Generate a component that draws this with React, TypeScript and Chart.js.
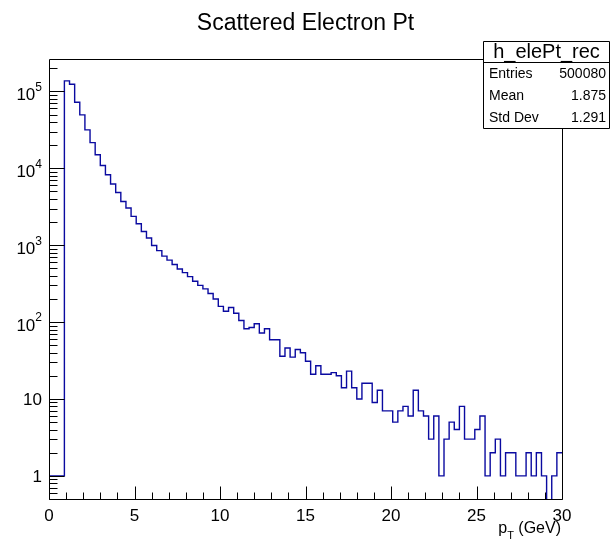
import React, { useEffect, useRef } from 'react';
import { Chart, registerables } from 'chart.js';

Chart.register(...registerables);

// ---------- data ----------
const chartTitle = 'Scattered Electron Pt';
const xAxisMain = 'p';
const xAxisSub = 'T';
const xAxisRest = ' (GeV)';

const xMin = 0;
const xMax = 30;
const binWidth = 0.3;
// counts per bin (100 bins of 0.3 GeV from 0 to 30)
const counts = [
  1, 1, 1, 137000, 124000, 72400, 49500, 31600, 21600, 15000,
  10900, 8240, 6240, 4850, 3700, 3040, 2370, 1900, 1510, 1240,
  990, 850, 720, 640, 560, 490, 440, 390, 340, 300,
  270, 235, 200, 160, 138, 155, 130, 105, 82, 85,
  95, 72, 82, 59, 59, 36, 46, 35, 44, 40,
  31, 21, 27, 21, 21, 22, 20, 14, 23, 14,
  10, 16, 16, 9, 13, 7, 7, 5, 7, 8,
  6, 13, 7, 6, 3, 6, 1, 3, 5, 4,
  8, 3, 3, 4, 6, 1, 2, 3, 1, 2,
  2, 1, 1, 2, 1, 2, 1, 0, 1, 2,
];

const yMin = 0.5;
const yMax = 264000;

const xTickValues = [0, 5, 10, 15, 20, 25, 30];
const xMinorStep = 1;
const yLabelValues = [1, 10, 100, 1000, 10000, 100000];
const yLabelBases = ['1', '10', '10', '10', '10', '10'];
const yLabelExps = ['', '', '2', '3', '4', '5'];

const statsTitle = 'h_elePt_rec';
const statsNames = ['Entries', 'Mean', 'Std Dev'];
const statsValues = ['500080', '1.875', '1.291'];

const FONT = '"Liberation Sans", Arial, Helvetica, sans-serif';
const LINE_COLOR = '#0a0aa0';

// ---------- plugin for ROOT-like frame, ticks, labels, stats ----------
const rootPlugin = {
  id: 'rootStyle',
  afterDatasetsDraw(chart: any) {
    const { ctx, chartArea: a, scales } = chart;
    const xs = scales.x;
    const ys = scales.y;
    const L = Math.round(a.left) + 0.5;
    const R = Math.round(a.right) + 0.5;
    const T = Math.round(a.top) + 0.5;
    const B = Math.round(a.bottom) + 0.5;
    ctx.save();
    ctx.strokeStyle = '#000';
    ctx.lineWidth = 1;
    ctx.beginPath();
    ctx.rect(L, T, R - L, B - T);
    ctx.stroke();

    // y ticks (log)
    const dLo = Math.floor(Math.log10(yMin));
    const dHi = Math.ceil(Math.log10(yMax));
    ctx.beginPath();
    for (let d = dLo; d <= dHi; d++) {
      for (let k = 1; k <= 9; k++) {
        const v = k * Math.pow(10, d);
        if (v < yMin * 0.999 || v > yMax) continue;
        const py = Math.round(ys.getPixelForValue(v)) + 0.5;
        const len = k === 1 ? 15 : 8;
        ctx.moveTo(L, py);
        ctx.lineTo(L + len, py);
      }
    }
    // x ticks
    for (let v = xMin; v <= xMax + 1e-9; v += xMinorStep) {
      const px = Math.round(xs.getPixelForValue(v)) + 0.5;
      const len = Math.abs(v % 5) < 1e-9 ? 13 : 7;
      ctx.moveTo(px, B);
      ctx.lineTo(px, B - len);
    }
    ctx.stroke();

    // y labels
    ctx.fillStyle = '#000';
    ctx.textBaseline = 'middle';
    ctx.textAlign = 'right';
    const lx = a.left - 7;
    yLabelValues.forEach((v, i) => {
      const py = ys.getPixelForValue(v);
      const exp = yLabelExps[i];
      if (exp) {
        ctx.font = `12px ${FONT}`;
        const ew = ctx.measureText(exp).width;
        ctx.fillText(exp, lx, py - 4);
        ctx.font = `17px ${FONT}`;
        ctx.fillText(yLabelBases[i], lx - ew, py + 4);
      } else {
        ctx.font = `17px ${FONT}`;
        ctx.fillText(yLabelBases[i], lx, py + 1);
      }
    });

    // x axis title
    ctx.textBaseline = 'alphabetic';
    ctx.textAlign = 'left';
    ctx.font = `16px ${FONT}`;
    const wRest = ctx.measureText(xAxisRest).width;
    const wMain = ctx.measureText(xAxisMain).width;
    ctx.font = `11px ${FONT}`;
    const wSub = ctx.measureText(xAxisSub).width;
    let cx = a.right - 1 - wRest - wSub - wMain;
    const base = 533;
    ctx.font = `16px ${FONT}`;
    ctx.fillText(xAxisMain, cx, base);
    cx += wMain;
    ctx.font = `11px ${FONT}`;
    ctx.fillText(xAxisSub, cx, base + 6);
    cx += wSub;
    ctx.font = `16px ${FONT}`;
    ctx.fillText(xAxisRest, cx, base);

    // title
    ctx.textAlign = 'center';
    ctx.textBaseline = 'middle';
    ctx.font = `23px ${FONT}`;
    ctx.fillText(chartTitle, chart.width / 2, 24);

    // stats box
    const bx0 = 483.5, bx1 = 609.5, by0 = 41.5, by1 = 128.5, bh = 62.5;
    ctx.fillStyle = '#fff';
    ctx.fillRect(bx0, by0, bx1 - bx0, by1 - by0);
    ctx.beginPath();
    ctx.rect(bx0, by0, bx1 - bx0, by1 - by0);
    ctx.moveTo(bx0, bh);
    ctx.lineTo(bx1, bh);
    ctx.stroke();
    ctx.fillStyle = '#000';
    ctx.font = `20px ${FONT}`;
    ctx.fillText(statsTitle, (bx0 + bx1) / 2, 52);
    ctx.font = `14px ${FONT}`;
    const rowY = [74, 96.5, 118.5];
    statsNames.forEach((n, i) => {
      ctx.textAlign = 'left';
      ctx.fillText(n, 489, rowY[i]);
      ctx.textAlign = 'right';
      ctx.fillText(statsValues[i], 606, rowY[i]);
    });
    ctx.restore();
  },
};

export default function App() {
  const ref = useRef<HTMLCanvasElement | null>(null);
  useEffect(() => {
    if (!ref.current) return;
    const pts: { x: number; y: number }[] = [];
    counts.forEach((c, i) => {
      const lo = xMin + i * binWidth;
      const hi = lo + binWidth;
      const yv = c > 0 ? c : yMin * 1e-4;
      pts.push({ x: lo, y: yv });
      pts.push({ x: hi, y: yv });
    });
    const chart = new Chart(ref.current, {
      type: 'line',
      data: {
        datasets: [
          {
            data: pts,
            borderColor: LINE_COLOR,
            borderWidth: 1.4,
            pointRadius: 0,
            tension: 0,
            fill: false,
          },
        ],
      },
      options: {
        animation: false,
        responsive: false,
        events: [],
        layout: { padding: { top: 59, right: 49, left: 49, bottom: 0 } },
        plugins: {
          legend: { display: false },
          title: { display: false },
          tooltip: { enabled: false },
        },
        scales: {
          x: {
            type: 'linear',
            min: xMin,
            max: xMax,
            afterFit: (s: any) => {
              s.height = 43;
            },
            afterBuildTicks: (s: any) => {
              s.ticks = xTickValues.map((v) => ({ value: v }));
            },
            grid: { display: false },
            border: { display: false },
            ticks: {
              color: '#000',
              font: { family: FONT, size: 17 },
              padding: -1,
              maxRotation: 0,
              autoSkip: false,
            },
          },
          y: {
            type: 'logarithmic',
            min: yMin,
            max: yMax,
            grid: { display: false },
            border: { display: false },
            ticks: { display: false },
            afterFit: (s: any) => {
              s.width = 0;
            },
          },
        },
      },
      plugins: [rootPlugin],
    } as any);
    return () => chart.destroy();
  }, []);
  return (
    <div style={{ position: 'absolute', left: 0, top: 0, width: 611, height: 542, background: '#fff' }}>
      <canvas ref={ref} width={611} height={542} style={{ display: 'block' }} />
    </div>
  );
}
